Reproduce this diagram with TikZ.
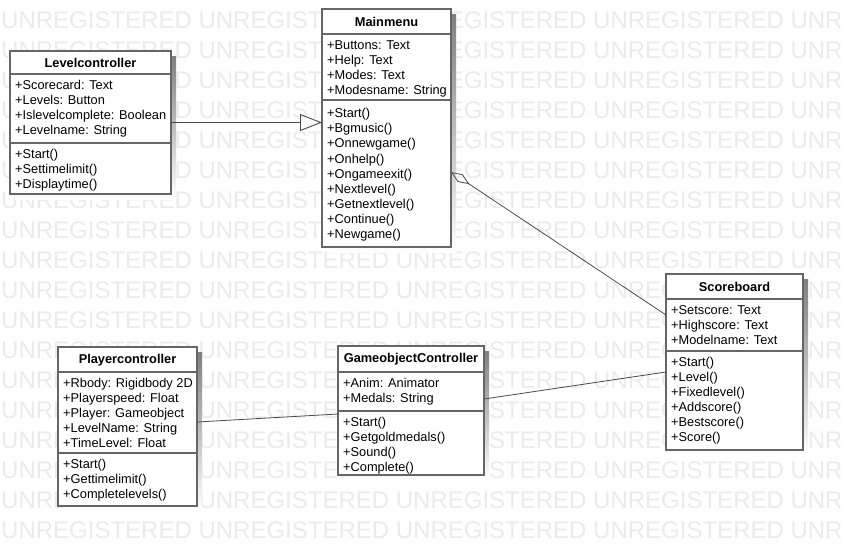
\documentclass[tikz,border=0pt]{standalone}
\usepackage{fontspec}
\setmainfont{Liberation Sans}
\usetikzlibrary{arrows.meta,calc}

\definecolor{boxline}{HTML}{666666}
\definecolor{wmark}{HTML}{EBEBEB}
\definecolor{shade}{HTML}{EFEFEF}
\definecolor{link}{HTML}{4A4A4A}

\tikzset{
  classbox/.style={draw=boxline, line width=1.5pt, fill=white, anchor=north west,
    inner sep=0pt, outer sep=0pt},
  sepline/.style={draw=boxline, line width=1.5pt},
  titletext/.style={inner sep=0pt, font=\fontsize{12.8}{15}\selectfont\bfseries},
  listtext/.style={anchor=north west, inner sep=0pt, align=left,
    font=\fontsize{12.8}{15.1}\selectfont},
  wm/.style={anchor=base west, inner sep=0pt, text=wmark,
    font=\fontsize{24}{24}\selectfont},
  gen/.style={draw=link, line width=0.9pt, -{Triangle[open,length=22pt,width=17pt]}},
  agg/.style={draw=link, line width=0.8pt, -{Diamond[open,length=22pt,width=9pt]}},
  assoc/.style={draw=link, line width=0.8pt},
}

% fixed top of the first line, so every list starts at the same baseline
\newcommand\liststrut{\rule{0pt}{10.5pt}}

% \umlclass{name}{x1}{y1}{x2}{sep1}{sep2}{y2}{title}{attributes}
\newcommand\umlclass[9]{%
  \fill[shade] (#2+5,#3+5) rectangle (#4+5,#7+5);
  \node[classbox, minimum width={(#4-#2)*1pt}, minimum height={(#7-#3)*1pt}]
    (#1) at (#2,#3) {};
  \draw[sepline] (#2,#5) -- (#4,#5);
  \draw[sepline] (#2,#6) -- (#4,#6);
  \node[titletext] (#1-t) at ({(#2+#4)/2},{(#3+#5)/2+0.5}) {#8};
  \node[listtext] (#1-a) at (#2+5,#5+4.5) {\liststrut#9};
  \coordinate (#1-ops) at (#2+5,#6+4.5);
}
% \umlops[extra drop]{name}{operations}
\newcommand\umlops[3][0]{\node[listtext] (#2-m) at ([yshift=-#1pt]#2-ops) {\liststrut#3};}

\begin{document}
\begin{tikzpicture}[x=1pt,y=-1pt]
  \useasboundingbox (0,0) rectangle (842,546);
  \fill[white] (0,0) rectangle (842,546);

  % background watermark rows
  \begin{scope}
    \clip (0,0) rectangle (842,546);
    \foreach \k in {0,...,17}
      \node[wm] at (1,28+30*\k)
        {UNREGISTERED UNREGISTERED UNREGISTERED UNREGISTERED UNREGISTERED};
  \end{scope}

  % classes
  \umlclass{lc}{10}{51}{171}{74}{143}{194}{Levelcontroller}
    {+Scorecard: Text\\+Levels: Button\\+Islevelcomplete: Boolean\\+Levelname: String}
  \umlops{lc}{+Start()\\+Settimelimit()\\+Displaytime()}

  \umlclass{mm}{322}{9}{451}{34}{100}{247}{Mainmenu}
    {+Buttons: Text\\+Help: Text\\+Modes: Text\\+Modesname: String}
  \umlops[2.5]{mm}{+Start()\\+Bgmusic()\\+Onnewgame()\\+Onhelp()\\+Ongameexit()\\+Nextlevel()\\+Getnextlevel()\\+Continue()\\+Newgame()}

  \umlclass{sb}{666}{274}{803}{299}{351}{450}{Scoreboard}
    {+Setscore: Text\\+Highscore: Text\\+Modelname: Text}
  \umlops{sb}{+Start()\\+Level()\\+Fixedlevel()\\+Addscore()\\+Bestscore()\\+Score()}

  \umlclass{pc}{58}{347}{197}{372}{453}{506}{Playercontroller}
    {+Rbody: Rigidbody 2D\\+Playerspeed: Float\\+Player: Gameobject\\+LevelName: String\\+TimeLevel: Float}
  \umlops{pc}{+Start()\\+Gettimelimit()\\+Completelevels()}

  \umlclass{goc}{338}{346}{484}{372}{411}{475}{GameobjectController}
    {+Anim: Animator\\+Medals: String}
  \umlops{goc}{+Start()\\+Getgoldmedals()\\+Sound()\\+Complete()}

  % relations
  \draw[gen] (lc.east) -- (lc.east -| mm.west);
  \draw[agg] ([yshift=-41pt]sb.north west) -- ([yshift=-163pt]mm.north east);
  \draw[assoc] ([yshift=4.5pt]pc.east) -- ([yshift=-3.5pt]goc.west);
  \draw[assoc] ([yshift=11.5pt]goc.east) -- ([yshift=-10pt]sb.west);
\end{tikzpicture}
\end{document}
